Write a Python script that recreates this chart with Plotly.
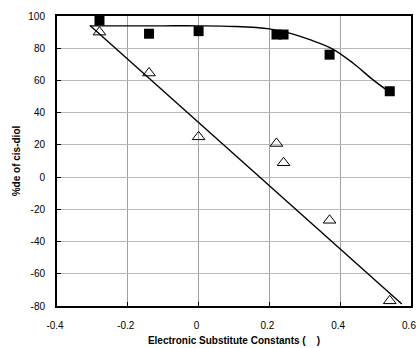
import plotly.graph_objects as go

# Electronic substituent constants (sigma)
sigma = [-0.28, -0.14, 0.0, 0.22, 0.24, 0.37, 0.54]
# %de of cis-diol, filled squares series
de_squares = [97.2, 89.0, 90.6, 88.5, 88.5, 76.0, 53.3]
# %de of cis-diol, open triangles series
de_triangles = [90.0, 64.6, 25.0, 20.9, 8.9, -26.8, -76.8]

# smooth trend curve through square series
curve_x = [-0.308, -0.2, -0.1, 0.0, 0.1, 0.2, 0.257, 0.314, 0.379, 0.436, 0.492, 0.53, 0.537]
curve_y = [93.9, 93.9, 93.9, 93.9, 93.5, 92.0, 89.4, 85.3, 79.5, 70.8, 60.5, 54.3, 53.3]

# linear trend line through triangle series
line_x = [-0.306, 0.574]
line_y = [93.9, -78.8]

x_ticks = [-0.4, -0.2, 0, 0.2, 0.4, 0.6]
x_labels = ["-0.4", "-0.2", "0", "0.2", "0.4", "0.6"]
y_ticks = [-80, -60, -40, -20, 0, 20, 40, 60, 80, 100]
y_labels = ["-80", "-60", "-40", "-20", "0", "20", "40", "60", "80", "100"]

fig = go.Figure()
fig.add_trace(go.Scatter(x=curve_x, y=curve_y, mode="lines",
                         line=dict(color="black", width=1.4, shape="spline"),
                         showlegend=False, hoverinfo="skip"))
fig.add_trace(go.Scatter(x=line_x, y=line_y, mode="lines",
                         line=dict(color="black", width=1.4),
                         showlegend=False, hoverinfo="skip"))
fig.add_trace(go.Scatter(x=sigma, y=de_squares, mode="markers",
                         marker=dict(symbol="square", size=10, color="black"),
                         showlegend=False, cliponaxis=False))
fig.add_trace(go.Scatter(x=sigma, y=de_triangles, mode="markers",
                         marker=dict(symbol="triangle-up-open", size=11, color="black",
                                     line=dict(width=1, color="black")),
                         showlegend=False, cliponaxis=False))

fam = "Liberation Sans, Arial, sans-serif"
axis_font = dict(family=fam, size=10, color="black")

fig.update_layout(
    width=418, height=348,
    margin=dict(l=57, r=7, t=16, b=42, autoexpand=False),
    paper_bgcolor="white", plot_bgcolor="white",
    font=axis_font,
    xaxis=dict(range=[-0.4, 0.6], tickvals=x_ticks, ticktext=x_labels,
               automargin=False, ticklabeloverflow="allow", ticklabelshift=-2,
               showgrid=True, gridcolor="#a0a0a0", gridwidth=1,
               zeroline=False, showline=True, linecolor="black", linewidth=2,
               mirror=True, ticks="inside", ticklen=4, tickcolor="black",
               tickfont=axis_font, ticklabelstandoff=9,
               title=dict(text="<b>Electronic Substitute Constants (    )</b>",
                          font=dict(family=fam, size=10, color="black"),
                          standoff=7)),
    yaxis=dict(range=[-80, 100], tickvals=y_ticks, ticktext=y_labels,
               automargin=False, ticklabeloverflow="allow",
               showgrid=True, gridcolor="#b8b8b8", gridwidth=1,
               zeroline=False, showline=True, linecolor="black", linewidth=2,
               mirror=True, ticks="inside", ticklen=4, tickcolor="black",
               tickfont=axis_font, ticklabelstandoff=8,
               title=dict(text="<b>%de of cis-diol</b>",
                          font=dict(family=fam, size=10, color="black"),
                          standoff=6)),
)

fig.write_html("out.html",
               config={"displayModeBar": False},
               post_script="document.body.style.margin='0';document.body.style.padding='0';document.body.style.overflow='hidden';")
